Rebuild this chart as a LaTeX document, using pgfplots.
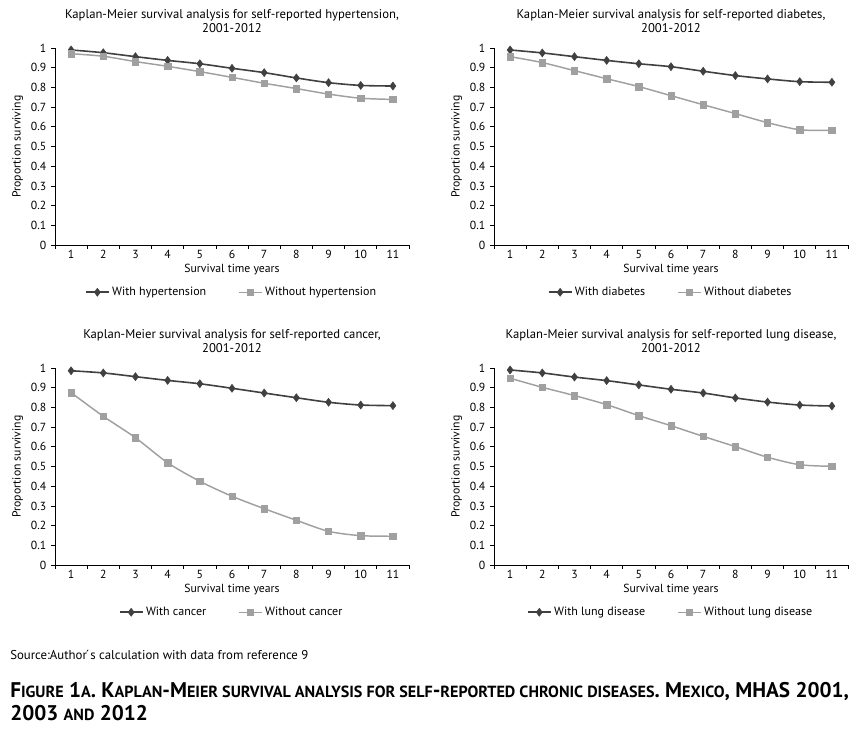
\documentclass[border=0pt]{standalone}
\usepackage{fontspec}
\setmainfont{PT Sans}
\usepackage{pgfplots}
\pgfplotsset{compat=1.18}

\definecolor{withc}{HTML}{404040}
\definecolor{withoutc}{HTML}{A0A0A0}

\newcommand\smc[1]{{\fontsize{12.1}{13}\selectfont #1}}
\newcommand\chartfont{\fontsize{8.8}{10.5}\selectfont}

\pgfplotsset{
  kmaxis/.style={
    scale only axis, width=265.5pt, height=147.75pt,
    anchor=south west,
    xmin=0.5, xmax=11.5, ymin=0, ymax=1,
    axis lines=left, axis line style={-, black, line width=0.6pt},
    xtick={1,2,3,4,5,6,7,8,9,10,11},
    major x tick style={draw=none},
    minor xtick={0.5,1.5,2.5,3.5,4.5,5.5,6.5,7.5,8.5,9.5,10.5,11.5},
    ytick={0,0.1,0.2,0.3,0.4,0.5,0.6,0.7,0.8,0.9,1},
    yticklabels={0,0.1,0.2,0.3,0.4,0.5,0.6,0.7,0.8,0.9,1},
    /pgf/number format/assume math mode=true,
    tick align=outside, major tick length=3pt, minor tick length=3pt,
    tick style={black, line width=0.5pt},
    tick label style={font=\chartfont},
    xticklabel style={yshift=2.5pt},
    title style={at={(axis description cs:0.5,1.096)}, anchor=center, align=center,
      font=\fontsize{9.5}{11}\selectfont},
    every axis x label/.style={at={(axis description cs:0.5,-0.125)}, anchor=center, font=\chartfont},
    every axis y label/.style={at={(axis description cs:-0.105,0.5)}, rotate=90, anchor=center, font=\chartfont},
    xlabel={Survival time years},
    ylabel={Proportion surviving},
    legend style={at={(axis description cs:0.5,-0.24)}, anchor=center, draw=none,
      font=\fontsize{9}{10.5}\selectfont,
      /tikz/every even column/.append style={column sep=22pt}},
    legend columns=2,
  },
  withline/.style={color=withc, line width=1.2pt, smooth, mark=diamond*, mark size=3pt,
    mark options={fill=withc, draw=withc, line width=0.4pt}},
  withoutline/.style={color=withoutc, line width=1.1pt, smooth, mark=square*, mark size=2.4pt,
    mark options={fill=withoutc, draw=withoutc, line width=0.4pt}},
}

\begin{document}
\begin{tikzpicture}
\path[use as bounding box] (0,0) rectangle (645.75pt,549pt);

% hypertension
\begin{axis}[kmaxis, at={(41.25pt,365.25pt)},
  title={Kaplan-Meier survival analysis for self-reported hypertension,\\2001-2012}]
\addplot[withline] coordinates {
  (1,0.990) (2,0.976) (3,0.956) (4,0.937) (5,0.920) (6,0.897)
  (7,0.875) (8,0.848) (9,0.824) (10,0.810) (11,0.807)};
\addplot[withoutline] coordinates {
  (1,0.971) (2,0.958) (3,0.931) (4,0.907) (5,0.880) (6,0.851)
  (7,0.821) (8,0.794) (9,0.766) (10,0.745) (11,0.739)};
\legend{With hypertension, Without hypertension}
\end{axis}

% diabetes
\begin{axis}[kmaxis, at={(370.5pt,365.25pt)},
  title={Kaplan-Meier survival analysis for self-reported diabetes,\\2001-2012}]
\addplot[withline] coordinates {
  (1,0.990) (2,0.975) (3,0.956) (4,0.937) (5,0.920) (6,0.905)
  (7,0.882) (8,0.860) (9,0.843) (10,0.829) (11,0.826)};
\addplot[withoutline] coordinates {
  (1,0.956) (2,0.926) (3,0.885) (4,0.844) (5,0.804) (6,0.758)
  (7,0.712) (8,0.667) (9,0.621) (10,0.585) (11,0.582)};
\legend{With diabetes, Without diabetes}
\end{axis}

% cancer
\begin{axis}[kmaxis, at={(41.25pt,125.25pt)},
  title={Kaplan-Meier survival analysis for self-reported cancer,\\2001-2012}]
\addplot[withline] coordinates {
  (1,0.986) (2,0.975) (3,0.956) (4,0.937) (5,0.920) (6,0.897)
  (7,0.873) (8,0.849) (9,0.826) (10,0.812) (11,0.809)};
\addplot[withoutline] coordinates {
  (1,0.875) (2,0.755) (3,0.646) (4,0.519) (5,0.425) (6,0.349)
  (7,0.286) (8,0.227) (9,0.171) (10,0.149) (11,0.146)};
\legend{With cancer, Without cancer}
\end{axis}

% lung disease
\begin{axis}[kmaxis, at={(370.5pt,125.25pt)},
  title={Kaplan-Meier survival analysis for self-reported lung disease,\\2001-2012}]
\addplot[withline] coordinates {
  (1,0.990) (2,0.975) (3,0.954) (4,0.936) (5,0.914) (6,0.892)
  (7,0.873) (8,0.848) (9,0.827) (10,0.812) (11,0.807)};
\addplot[withoutline] coordinates {
  (1,0.948) (2,0.902) (3,0.860) (4,0.814) (5,0.758) (6,0.707)
  (7,0.653) (8,0.601) (9,0.547) (10,0.509) (11,0.501)};
\legend{With lung disease, Without lung disease}
\end{axis}

\node[anchor=west, inner sep=0pt, font=\fontsize{9.6}{11}\selectfont]
  at (7.5pt,57.75pt) {Source:Author\'{}s calculation with data from reference 9};
\node[anchor=west, inner sep=0pt, font=\bfseries\fontsize{15.9}{17}\selectfont]
  at (7.5pt,30pt) {F\smc{IGURE} 1\smc{A}. K\smc{APLAN}-M\smc{EIER SURVIVAL ANALYSIS FOR SELF}-\smc{REPORTED CHRONIC DISEASES}. M\smc{EXICO}, MHAS 2001,};
\node[anchor=west, inner sep=0pt, font=\bfseries\fontsize{15.9}{17}\selectfont]
  at (7.5pt,14.25pt) {2003 \smc{AND} 2012};
\end{tikzpicture}
\end{document}
